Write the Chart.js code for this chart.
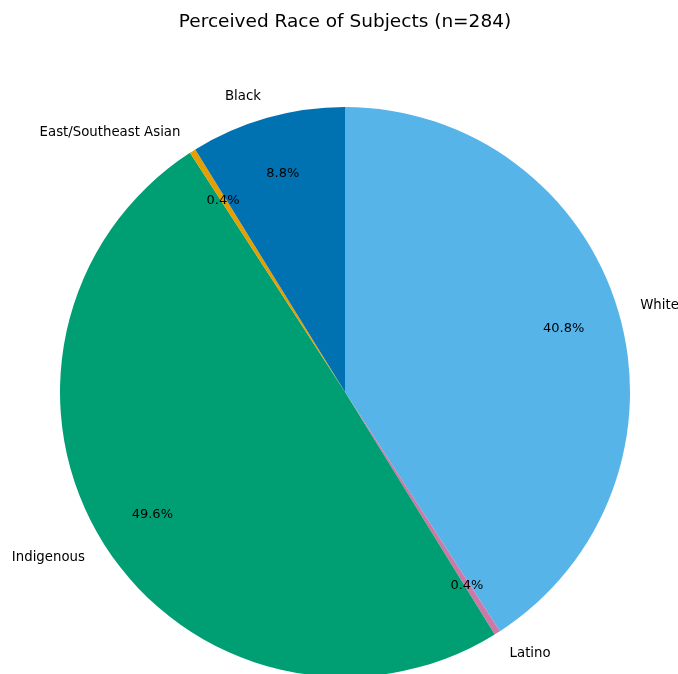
<!DOCTYPE html>
<html>
<head>
<meta charset="utf-8">
<script src="https://cdn.jsdelivr.net/npm/chart.js@4"></script>
<style>
  html, body { margin: 0; padding: 0; background: #fff; overflow: hidden; }
  #wrap { width: 678px; height: 740px; }
</style>
</head>
<body>
<div id="wrap"><canvas id="raceChart" width="678" height="740"></canvas></div>
<script>
// Data (n = 284)
const categories = ['White', 'Latino', 'Indigenous', 'East/Southeast Asian', 'Black'];
const counts = [116, 1, 141, 1, 25];
const colors = ['#56B4E9', '#CC79A7', '#009E73', '#E69F00', '#0072B2'];
const chartTitle = 'Perceived Race of Subjects (n=284)';

const total = counts.reduce((a, b) => a + b, 0);

// matplotlib-style labels: name just outside the pie, percent inside at 0.8r
const pieLabels = {
    id: 'pieLabels',
    afterDraw(chart) {
        const ctx = chart.ctx;
        const meta = chart.getDatasetMeta(0);
        ctx.save();
        ctx.fillStyle = '#000';
        meta.data.forEach((arc, i) => {
            const mid = (arc.startAngle + arc.endAngle) / 2;
            const r = arc.outerRadius;
            const cx = Math.cos(mid), cy = Math.sin(mid);
            // category label
            ctx.font = '13.3px "DejaVu Sans"';
            ctx.textBaseline = 'middle';
            ctx.textAlign = cx >= 0 ? 'left' : 'right';
            ctx.fillText(categories[i], arc.x + cx * r * 1.08, arc.y + cy * r * 1.08 + 1);
            // percentage
            ctx.font = '13px "DejaVu Sans"';
            ctx.textAlign = 'center';
            const pct = (counts[i] / total * 100).toFixed(1) + '%';
            ctx.fillText(pct, arc.x + cx * r * 0.8, arc.y + cy * r * 0.8 + 1);
        });
        // title
        ctx.font = '18.5px "DejaVu Sans"';
        ctx.textAlign = 'center';
        ctx.textBaseline = 'middle';
        ctx.fillText(chartTitle, 345, 22);
        ctx.restore();
    }
};

new Chart(document.getElementById('raceChart').getContext('2d'), {
    type: 'pie',
    data: {
        labels: categories,
        datasets: [{
            data: counts,
            backgroundColor: colors,
            borderWidth: 0,
            hoverOffset: 0
        }]
    },
    options: {
        responsive: false,
        animation: false,
        layout: { padding: { left: 60, right: 48, top: 107, bottom: 63 } },
        plugins: {
            legend: { display: false },
            title: { display: false },
            tooltip: { enabled: false }
        }
    },
    plugins: [pieLabels]
});
</script>
</body>
</html>
